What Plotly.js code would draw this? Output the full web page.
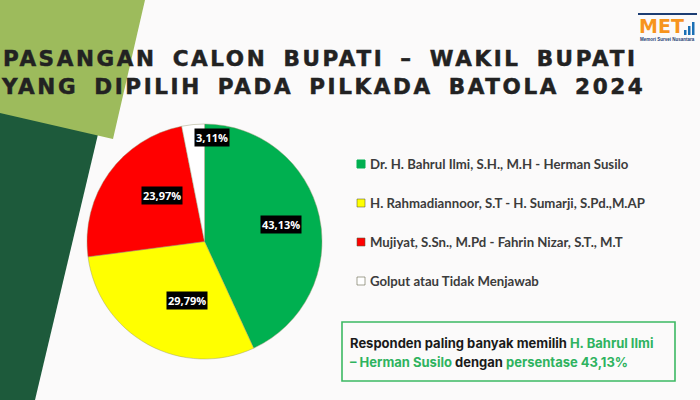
<!DOCTYPE html>
<html>
<head>
<meta charset="utf-8">
<script src="https://cdn.plot.ly/plotly-3.0.1.min.js"></script>
<style>
html,body{margin:0;padding:0;background:#fbfafa;}
#chart{width:700px;height:400px;}
g.annotation[data-index="0"] text, g.annotation[data-index="1"] text {letter-spacing:2.6px; word-spacing:6px; stroke:#222222; stroke-width:0.5px;}
</style>
</head>
<body>
<div id="chart"></div>
<script>
// ---- data ----
const labels = [
  "Dr. H. Bahrul Ilmi, S.H., M.H - Herman Susilo",
  "H. Rahmadiannoor, S.T - H. Sumarji, S.Pd.,M.AP",
  "Mujiyat, S.Sn., M.Pd - Fahrin Nizar, S.T., M.T",
  "Golput atau Tidak Menjawab"
];
const values = [43.13, 29.79, 23.97, 3.11];
const colors = ["#00b050", "#ffff00", "#ff0000", "#ffffff"];
const titleLines = [
  "PASANGAN CALON BUPATI \u2013 WAKIL BUPATI",
  "YANG DIPILIH PADA PILKADA BATOLA 2024"
];
const calloutLine1 = ["Responden paling banyak memilih ", "H. Bahrul Ilmi"];
const calloutLine2 = ["\u2013 Herman Susilo", " dengan ", "persentase 43,13%"];

// ---- layout helpers ----
const W = 700, H = 400;
const px = x => x / W;
const py = y => 1 - y / H;
const cx = 204.5, cy = 241.5, R = 117.5;

const fmt = v => v.toFixed(2).replace('.', ',') + '%';

const trace = {
  type: 'pie',
  values: values,
  labels: labels,
  marker: {colors: colors, line: {color: 'rgba(150,150,110,0.55)', width: 0.8}},
  sort: false,
  direction: 'clockwise',
  rotation: 0,
  textinfo: 'none',
  hoverinfo: 'none',
  domain: {x: [px(cx - R), px(cx + R)], y: [py(cy + R), py(cy - R)]}
};

const annotations = [];
const shapes = [];

// background decorative shapes
shapes.push({type: 'path', xref: 'paper', yref: 'paper', layer: 'below',
  path: `M ${px(0)} ${py(105)} L ${px(99)} ${py(130)} L ${px(35)} ${py(400)} L ${px(0)} ${py(400)} Z`,
  fillcolor: '#1d5a3b', line: {width: 0}});
shapes.push({type: 'path', xref: 'paper', yref: 'paper', layer: 'below',
  path: `M ${px(0)} ${py(0)} L ${px(145)} ${py(0)} L ${px(113)} ${py(139)} L ${px(0)} ${py(113)} Z`,
  fillcolor: '#9dbb5c', line: {width: 0}});

// title (annotations 0 and 1)
titleLines.forEach((t, i) => {
  annotations.push({text: '<b>' + t + '</b>', xref: 'paper', yref: 'paper', x: px(i === 0 ? 1 : -1), y: py(58 + i * 28.5),
    xanchor: 'left', yanchor: 'middle', align: 'left', showarrow: false,
    font: {family: 'DejaVu Sans', size: 21.5, color: '#222222'}});
});

// percent labels on pie
let cum = 0;
const total = values.reduce((a, b) => a + b, 0);
values.forEach((v, i) => {
  const mid = (cum + v / 2) / total;
  cum += v;
  const a = mid * 2 * Math.PI;
  const rf = v < 5 ? 0.89 : 0.67;
  annotations.push({text: '<b>' + fmt(v) + '</b>', xref: 'paper', yref: 'paper',
    x: px(cx + Math.sin(a) * R * rf), y: py(cy - Math.cos(a) * R * rf),
    showarrow: false, bgcolor: '#000000', borderpad: 1,
    font: {family: 'Open Sans', size: 11, color: '#ffffff'}});
});

// legend
labels.forEach((l, i) => {
  const yy = 164 + i * 39;
  shapes.push({type: 'rect', xref: 'paper', yref: 'paper',
    x0: px(357), x1: px(365), y0: py(yy - 4), y1: py(yy + 4),
    fillcolor: colors[i], line: {color: i === 0 ? colors[i] : 'rgba(90,90,60,0.55)', width: 1}});
  annotations.push({text: l, xref: 'paper', yref: 'paper', x: px(368), y: py(yy),
    xanchor: 'left', yanchor: 'middle', align: 'left', showarrow: false,
    font: {family: 'Lato', size: 13.2, weight: 700, color: '#3c3c3c'}});
});

// callout box
const gText = '#2fb35f';
shapes.push({type: 'rect', xref: 'paper', yref: 'paper',
  x0: px(342), x1: px(675), y0: py(381), y1: py(322),
  line: {color: '#3cb963', width: 1.6}, fillcolor: 'rgba(0,0,0,0)'});
annotations.push({xref: 'paper', yref: 'paper', x: px(348), y: py(343), xanchor: 'left', yanchor: 'middle',
  align: 'left', showarrow: false,
  text: `${calloutLine1[0]}<span style="color:${gText}">${calloutLine1[1]}</span>`,
  font: {family: 'Inter', size: 13, weight: 650, color: '#1a1a1a'}});
annotations.push({xref: 'paper', yref: 'paper', x: px(348), y: py(362), xanchor: 'left', yanchor: 'middle',
  align: 'left', showarrow: false,
  text: `<span style="color:${gText}">${calloutLine2[0]}</span>${calloutLine2[1]}<span style="color:${gText}">${calloutLine2[2]}</span>`,
  font: {family: 'Inter', size: 13, weight: 650, color: '#1a1a1a'}});

// logo
shapes.push({type: 'rect', xref: 'paper', yref: 'paper', x0: px(638), x1: px(697), y0: py(15), y1: py(13),
  fillcolor: '#1c3d73', line: {width: 0}});
annotations.push({xref: 'paper', yref: 'paper', x: px(637), y: py(26), xanchor: 'left', yanchor: 'middle',
  showarrow: false, text: '<b>ME</b>', font: {family: 'DejaVu Sans', size: 19, color: '#f7941d'}});
annotations.push({xref: 'paper', yref: 'paper', x: px(669), y: py(26), xanchor: 'left', yanchor: 'middle',
  showarrow: false, text: '<b>T</b>', font: {family: 'DejaVu Sans', size: 19, color: '#f7941d'}});
[[684, 30], [688, 26], [692, 22]].forEach(b => {
  shapes.push({type: 'rect', xref: 'paper', yref: 'paper', x0: px(b[0]), x1: px(b[0] + 2.5), y0: py(35), y1: py(b[1]),
    fillcolor: '#1a6fb5', line: {width: 0}});
});
annotations.push({xref: 'paper', yref: 'paper', x: px(667), y: py(39.5), xanchor: 'center', yanchor: 'middle',
  showarrow: false, text: '<b>Memori Survei Nusantara</b>', font: {family: 'Liberation Sans', size: 4.5, color: '#1c3d73'}});

const layout = {
  width: W, height: H,
  margin: {l: 0, r: 0, t: 0, b: 0},
  paper_bgcolor: '#fbfafa',
  plot_bgcolor: '#fbfafa',
  showlegend: false,
  shapes: shapes,
  annotations: annotations
};

Plotly.newPlot('chart', [trace], layout, {displayModeBar: false, staticPlot: true});
</script>
</body>
</html>
